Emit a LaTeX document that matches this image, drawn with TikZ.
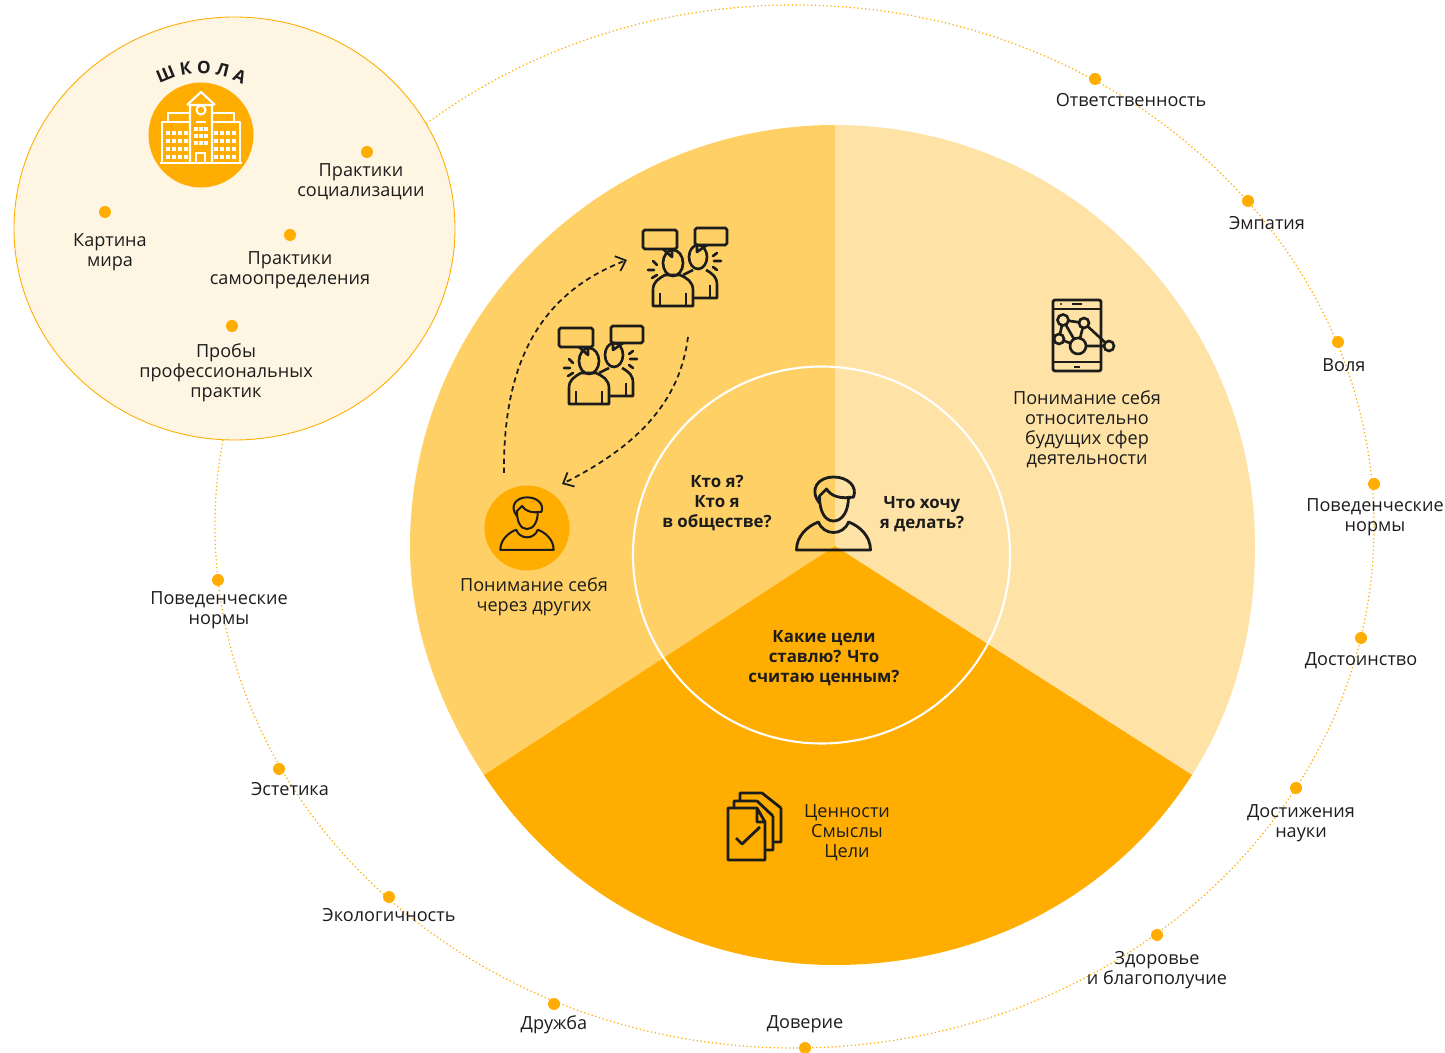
\documentclass[tikz,border=0pt]{standalone}
\usepackage{fontspec}
\setmainfont{Open Sans}
\usetikzlibrary{arrows.meta,decorations.text}
\definecolor{amber}{HTML}{FFAD00}
\definecolor{amberMid}{HTML}{FFD066}
\definecolor{amberPale}{HTML}{FFE2A5}
\definecolor{cream}{HTML}{FFF5E3}
\definecolor{ink}{HTML}{1C1C1C}
\tikzset{
  personicon/.pic={
    \draw[ink,line join=round,line cap=round] (-14,-18) -- (-7,-25) .. controls (-2,-17) and (8,-15) .. (20,-17);
    \draw[ink,line join=round,line cap=round] (-14,-18) .. controls (-14,-3) and (-9,7) .. (0,7) .. controls (9,7) and (15,-3) .. (15,-17);
    \draw[ink,line cap=round] (-14,-11) .. controls (-25,-25) and (-15,-37) .. (0,-37) .. controls (15,-37) and (24,-27) .. (20,-17);
    \draw[ink,line join=round] (-37,36) .. controls (-37,22) and (-26,12) .. (-15,8) .. controls (-10,22) and (10,22) .. (15,8) .. controls (26,12) and (37,22) .. (37,36) -- cycle;
  },
  talkicon/.pic={
    \draw[ink,rounded corners=1pt] (-42,-37) rectangle (-8,-18);
    \draw[ink,rounded corners=1pt] (10,-39) rectangle (42,-22);
    \draw[ink,line join=round] (-22,-18) -- (-13,-10) -- (-13,-18);
    \draw[ink,line join=round] (12,-22) -- (12,-15) -- (22,-22);
    \draw[ink] (-12,-4) ellipse [x radius=10,y radius=13];
    \draw[ink] (13,-10) ellipse [x radius=9,y radius=12];
    \draw[ink,line join=round] (-32,39) -- (-32,23) .. controls (-32,15) and (-27,12) .. (-20,8) -- (-5,8) .. controls (2,11) and (8,15) .. (8,23) -- (8,39) -- cycle;
    \draw[ink,line join=round] (-2,8) -- (8,3) (21,3) .. controls (28,7) and (32,10) .. (32,18) -- (32,31) -- (8,31);
    \draw[ink] (-25,26) -- (-25,39) (1,26) -- (1,39) (25,18) -- (25,31);
    \draw[ink,line cap=round] (-32,-6) -- (-28,-2) (-37,3) -- (-31,3) (-33,11) -- (-28,8);
    \draw[ink,line cap=round] (28,-11) -- (32,-14) (29,-6) -- (36,-6) (28,0) -- (32,3);
  }
}
\begin{document}
\begin{tikzpicture}[
    x=0.02cm,y=-0.02cm,
    dot/.style={circle,fill=amber,inner sep=0pt,minimum size=0.24cm},
    term/.style={align=center,text=ink,font=\fontsize{10.3}{11.4}\selectfont,inner sep=0pt},
    question/.style={term,font=\fontsize{9.6}{11.4}\selectfont\bfseries},
    walk/.style={ink,line width=1pt,dashed,dash pattern=on 3pt off 2.2pt,-{Straight Barb[length=5pt,width=9pt]}},
    orbit/.style={amber,line width=0.7pt,dash pattern=on 0.7pt off 1.5pt}]
  \useasboundingbox (0,0) rectangle (1445,1053);

  \draw[orbit] (794.5,526.5) ellipse [x radius=579.5,y radius=521.5];

  \begin{scope}
    \clip (835,125) .. controls (1067,125) and (1255,314) .. (1255,546)
      .. controls (1255,628) and (1236,706) .. (1192,775)
      .. controls (1114,897) and (980,965) .. (835,965)
      .. controls (693,965) and (562,894) .. (484,775)
      .. controls (439,706) and (410,628) .. (410,546)
      .. controls (410,314) and (603,125) .. (835,125) -- cycle;
    \fill[amberMid] (835,546) -- (835,100) -- (133,100) -- (133,1004) -- cycle;
    \fill[amberPale] (835,546) -- (835,100) -- (1549,100) -- (1549,1004) -- cycle;
    \fill[amber] (835,546) -- (133,1004) -- (133,1100) -- (1549,1100) -- (1549,1004) -- cycle;
  \end{scope}
  \draw[white,line width=1.2pt] (821.5,555) circle [radius=188.5];

  \draw[amber,fill=cream,line width=0.5pt] (234.5,228.5) ellipse [x radius=220.5,y radius=211.5];

  \node[circle,fill=amber,inner sep=0pt,minimum size=2.1cm] (SCHOOL) at (201,135) {};
  \path[decorate,decoration={text along path,text align=center,
      text={|\fontsize{9.8}{12}\selectfont\bfseries\color{ink}|Ш К О Л А}}]
    (146,94) .. controls (176,67) and (226,67) .. (256,94);
  \draw[white,line width=1.2pt,line join=round] (187,105) -- (201,92) -- (215,105) (190,163) -- (190,105) -- (212,105) -- (212,163);
  \draw[white,line width=1.2pt,line join=round] (162,163) -- (162,122) -- (190,122) (168,122) -- (168,113) -- (190,113);
  \draw[white,line width=1.2pt,line join=round] (240,163) -- (240,122) -- (212,122) (234,122) -- (234,113) -- (212,113);
  \draw[white,line width=1.2pt] (160,163) -- (242,163) (196,163) -- (196,153) -- (205,153) -- (205,163) (196,122) -- (206,122);
  \draw[white,line width=1.2pt] (201,110) circle [radius=4.5];
  \foreach \row in {133,141,149,157}{
    \foreach \col in {168,174,180,186,216,222,228,234}{
      \fill[white] (\col-1.8,\row-2.2) rectangle (\col+1.8,\row+2.2);
    }
  }
  \foreach \row in {129,136,143}{
    \foreach \col in {196,201,206}{
      \fill[white] (\col-1.6,\row-2.2) rectangle (\col+1.6,\row+2.2);
    }
  }

  \node[dot] (S1) at (367,152) {};
  \node[dot] (S2) at (105,212) {};
  \node[dot] (S3) at (290,235) {};
  \node[dot] (S4) at (232,326) {};
  \node[term] (SL1) at (361,182) {Практики\\социализации};
  \node[term] (SL2) at (110,252) {Картина\\мира};
  \node[term] (SL3) at (290,270) {Практики\\самоопределения};
  \node[term] (SL4) at (226,373) {Пробы\\профессиональных\\практик};

  \node[dot] (D1) at (1095,79) {};
  \node[dot] (D2) at (1248,201) {};
  \node[dot] (D3) at (1338,342) {};
  \node[dot] (D4) at (1374,484) {};
  \node[dot] (D5) at (1361,638) {};
  \node[dot] (D6) at (1296,788) {};
  \node[dot] (D7) at (1157,935) {};
  \node[dot] (D8) at (805,1048) {};
  \node[dot] (D9) at (554,1004) {};
  \node[dot] (D10) at (389,897) {};
  \node[dot] (D11) at (279,769) {};
  \node[dot] (D12) at (218,580) {};
  \node[term] (L1) at (1131,100) {Ответственность};
  \node[term] (L2) at (1267,223) {Эмпатия};
  \node[term] (L3) at (1344,365) {Воля};
  \node[term] (L4) at (1375,517) {Поведенческие\\нормы};
  \node[term] (L5) at (1361,661) {Достоинство};
  \node[term] (L6) at (1301,823) {Достижения\\науки};
  \node[term] (L7) at (1157,970) {Здоровье\\и благополучие};
  \node[term] (L8) at (805,1024) {Доверие};
  \node[term] (L9) at (554,1025) {Дружба};
  \node[term] (L10) at (389,915) {Экологичность};
  \node[term] (L11) at (290,789) {Эстетика};
  \node[term] (L12) at (219,610) {Поведенческие\\нормы};

  \node[circle,fill=amber,inner sep=0pt,minimum size=1.7cm] (SELF) at (527,528) {};
  \pic[scale=0.72,line width=1.15pt] (SELFICON) at (527,524) {personicon};
  \pic[line width=1.6pt] (ME) at (833.5,514) {personicon};
  \pic[line width=1.5pt] (TALK1) at (685,267) {talkicon};
  \pic[line width=1.5pt] (TALK2) at (601,365) {talkicon};

  \coordinate (A1) at (504,473);
  \coordinate (A2) at (627,260);
  \coordinate (B1) at (688,337);
  \coordinate (B2) at (562,484);
  \draw[walk] (A1) .. controls (503,370) and (535,295) .. (A2);
  \draw[walk] (B1) .. controls (680,400) and (640,445) .. (B2);

  \draw[ink,line width=1.6pt,line join=round,rounded corners=1.2pt] (1053,300) rectangle (1101,371);
  \draw[ink,line width=1.5pt] (1053,309) -- (1101,309) (1053,362) -- (1101,362) (1072,304) -- (1082,304) (1074,367) -- (1080,367);
  \fill[ink] (1061,304) circle [radius=1.2];
  \draw[ink,line width=1.5pt] (1063,320) -- (1084,323) -- (1109,346) -- (1078,346) -- (1059,339) -- (1063,320) -- (1078,346) -- (1084,323);
  \foreach \cx/\cy/\cr in {1063/320/5.5,1084/323/5,1059/339/5,1078/346/8,1109/346/5}{
    \draw[ink,fill=amberPale,line width=1.5pt] (\cx,\cy) circle [radius=\cr];
  }

  \draw[ink,line width=1.6pt,line join=round] (762,793) -- (740,793) -- (740,801) (781,808) -- (781,842) -- (773,842) (762,793) -- (781,808);
  \draw[ink,line width=1.6pt,line join=round] (757,801) -- (734,801) -- (734,808) (773,816) -- (773,850) -- (765,850) (757,801) -- (773,816);
  \draw[ink,line width=1.6pt,line join=round] (757,808) -- (728,808) -- (728,860) -- (765,860) -- (765,822) -- (757,808) -- (757,822) -- (765,822);
  \draw[ink,line width=1.6pt,line join=round] (736,838) -- (742,844) -- (760,827);

  \node[term] (T1) at (534,597) {Понимание себя\\через других};
  \node[term] (T2) at (1087,429) {Понимание себя\\относительно\\будущих сфер\\деятельности};
  \node[term] (T3) at (847,833) {Ценности\\Смыслы\\Цели};
  \node[question] (Q1) at (717,503) {Кто я?\\Кто я\\в обществе?};
  \node[question] (Q2) at (922,514) {Что хочу\\я делать?};
  \node[question] (Q3) at (824,658) {Какие цели\\ставлю? Что\\считаю ценным?};
\end{tikzpicture}
\end{document}
